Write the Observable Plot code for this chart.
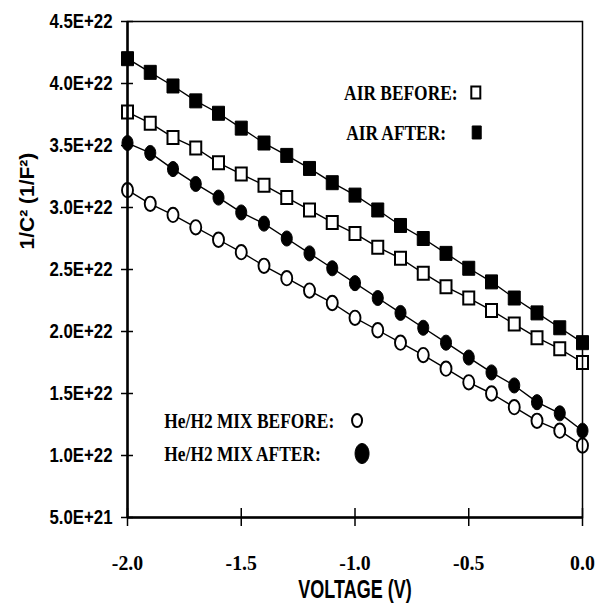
<!DOCTYPE html>
<html>
<head>
<meta charset="utf-8">
<script src="https://cdn.jsdelivr.net/npm/d3@7"></script>
<script src="https://cdn.jsdelivr.net/npm/@observablehq/plot@0.6"></script>
<style>
  html, body { margin: 0; padding: 0; background: #fff; }
  #chart svg { display: block; background: #fff; }
  g[aria-label="y-axis tick label"] { font-family: "Liberation Sans", Arial, sans-serif; font-weight: bold; font-size: 21px; }
  g[aria-label="x-axis tick label"] { font-family: "Liberation Serif", "Times New Roman", serif; font-weight: bold; font-size: 22px; }
</style>
</head>
<body>
<div id="chart"></div>
<script>
// ---- data ----
const voltage = [-2.0, -1.9, -1.8, -1.7, -1.6, -1.5, -1.4, -1.3, -1.2, -1.1, -1.0, -0.9, -0.8, -0.7, -0.6, -0.5, -0.4, -0.3, -0.2, -0.1, 0.0];
// values in units of 1e22 (1/F^2)
const airBefore = [3.77, 3.68, 3.565, 3.48, 3.36, 3.27, 3.18, 3.08, 2.98, 2.88, 2.79, 2.68, 2.59, 2.47, 2.36, 2.27, 2.17, 2.06, 1.95, 1.86, 1.75];
const airAfter  = [4.20, 4.09, 3.98, 3.86, 3.76, 3.64, 3.52, 3.42, 3.315, 3.20, 3.10, 2.98, 2.855, 2.75, 2.63, 2.51, 2.40, 2.27, 2.15, 2.03, 1.91];
const heBefore  = [3.14, 3.03, 2.94, 2.84, 2.74, 2.64, 2.53, 2.43, 2.33, 2.23, 2.11, 2.01, 1.91, 1.81, 1.70, 1.59, 1.50, 1.39, 1.28, 1.20, 1.08];
const heAfter   = [3.52, 3.44, 3.31, 3.19, 3.08, 2.96, 2.87, 2.75, 2.63, 2.51, 2.39, 2.27, 2.15, 2.03, 1.91, 1.79, 1.67, 1.565, 1.43, 1.34, 1.20];
const seriesNames = ["AIR BEFORE:", "AIR AFTER:", "He/H2 MIX BEFORE:", "He/H2 MIX AFTER:"];
const xTickValues = [-2.0, -1.5, -1.0, -0.5, 0.0];
const xTickLabels = ["-2.0", "-1.5", "-1.0", "-0.5", "0.0"];
const yTickValues = [5e21, 1e22, 1.5e22, 2e22, 2.5e22, 3e22, 3.5e22, 4e22, 4.5e22];
const yTickLabels = ["5.0E+21", "1.0E+22", "1.5E+22", "2.0E+22", "2.5E+22", "3.0E+22", "3.5E+22", "4.0E+22", "4.5E+22"];
const xTitle = "VOLTAGE (V)";
const yTitle = "1/C\u00B2 (1/F\u00B2)";

// ---- build table ----
const SCALE = 1e22;
const seriesValues = [airBefore, airAfter, heBefore, heAfter];
const rows = seriesValues.flatMap((vals, s) =>
  vals.map((v, i) => ({series: seriesNames[s], v: voltage[i], c: v * SCALE})));

// custom symbols (styles)
function rectSymbol(w, h) {
  return {draw(ctx) { ctx.rect(-w / 2, -h / 2, w, h); }};
}
function ellipseSymbol(rx, ry) {
  const k = 0.5523;
  return {draw(ctx) {
    ctx.moveTo(0, -ry);
    ctx.bezierCurveTo(k * rx, -ry, rx, -k * ry, rx, 0);
    ctx.bezierCurveTo(rx, k * ry, k * rx, ry, 0, ry);
    ctx.bezierCurveTo(-k * rx, ry, -rx, k * ry, -rx, 0);
    ctx.bezierCurveTo(-rx, -k * ry, -k * rx, -ry, 0, -ry);
    ctx.closePath();
  }};
}
const styles = {
  "AIR BEFORE:":       {symbol: rectSymbol(11, 13), fill: "white", stroke: "black", strokeWidth: 2},
  "AIR AFTER:":        {symbol: rectSymbol(12, 14), fill: "black", stroke: "black", strokeWidth: 1},
  "He/H2 MIX BEFORE:": {symbol: ellipseSymbol(5.5, 7.2), fill: "white", stroke: "black", strokeWidth: 1.9},
  "He/H2 MIX AFTER:":  {symbol: ellipseSymbol(5.5, 7.5), fill: "black", stroke: "black", strokeWidth: 1}
};

const xDomain = [xTickValues[0], xTickValues[xTickValues.length - 1]];
const yDomain = [yTickValues[0], yTickValues[yTickValues.length - 1]];

// legend layout (data-space anchors)
const legend = [
  {name: "AIR BEFORE:",       tx: -1.048, mx: -0.469, y: 3.927e22},
  {name: "AIR AFTER:",        tx: -1.039, mx: -0.465, y: 3.605e22},
  {name: "He/H2 MIX BEFORE:", tx: -1.838, mx: -0.991, y: 1.282e22},
  {name: "He/H2 MIX AFTER:",  tx: -1.838, mx: -0.969, y: 1.016e22}
];
const legendSymbols = {
  "AIR BEFORE:": rectSymbol(9, 12),
  "AIR AFTER:": rectSymbol(9, 13),
  "He/H2 MIX BEFORE:": ellipseSymbol(5, 6.5),
  "He/H2 MIX AFTER:": ellipseSymbol(7, 10)
};

const marks = [];
for (const name of seriesNames) {
  const data = rows.filter(d => d.series === name);
  marks.push(Plot.line(data, {x: "v", y: "c", stroke: "black", strokeWidth: 1.4}));
}
for (const name of seriesNames) {
  const data = rows.filter(d => d.series === name);
  const st = styles[name];
  marks.push(Plot.dot(data, {x: "v", y: "c", symbol: () => st.symbol, fill: st.fill, stroke: st.stroke, strokeWidth: st.strokeWidth, r: 7}));
}
// legend
for (const L of legend) {
  marks.push(Plot.text([L], {x: "tx", y: "y", text: "name", textAnchor: "start", lineAnchor: "middle",
    fontFamily: "Liberation Serif, Times New Roman, serif", fontWeight: "bold", fontSize: 22}));
  const st = styles[L.name];
  marks.push(Plot.dot([L], {x: "mx", y: "y", symbol: () => legendSymbols[L.name], fill: st.fill, stroke: "black", strokeWidth: st.fill === "white" ? 2 : 1, r: 7}));
}
// frame and axis lines
marks.push(Plot.frame({stroke: "black", strokeWidth: 1.5}));
marks.push(Plot.ruleX([xDomain[0]], {stroke: "black", strokeWidth: 2.5}));
marks.push(Plot.ruleY([yDomain[0]], {stroke: "black", strokeWidth: 2.5}));
// axes with ticks crossing the axis line
marks.push(Plot.axisY({ticks: yTickValues, tickFormat: d => yTickLabels[yTickValues.indexOf(d)], tickSize: 12, dx: 6, tickPadding: 9, strokeWidth: 1.5, label: null}));
marks.push(Plot.axisX({ticks: xTickValues, tickFormat: d => xTickLabels[xTickValues.indexOf(d)], tickSize: 18, dy: -9, tickPadding: 28, strokeWidth: 1.5, label: null}));
// axis titles
marks.push(Plot.text([yTitle], {frameAnchor: "left", dx: -100, dy: -20, rotate: -90, text: d => d,
  fontFamily: "Liberation Sans, Arial, sans-serif", fontWeight: "bold", fontSize: 21, letterSpacing: 0.5}));
marks.push(Plot.text([xTitle], {frameAnchor: "bottom", dy: 80, text: d => d,
  fontFamily: "Liberation Sans, Arial, sans-serif", fontWeight: "bold", fontSize: 25}));

const chart = Plot.plot({
  width: 600,
  height: 609,
  marginLeft: 127,
  marginRight: 18,
  marginTop: 21,
  marginBottom: 92,
  x: {domain: xDomain, axis: null},
  y: {domain: yDomain, axis: null},
  style: {background: "white", color: "black"},
  marks
});
document.getElementById("chart").append(chart);

// condense text horizontally to mimic the narrow typefaces of the original
function condense(el, factor) {
  const w = el.getComputedTextLength();
  if (w > 0) {
    el.setAttribute("textLength", (w * factor).toFixed(1));
    el.setAttribute("lengthAdjust", "spacingAndGlyphs");
  }
}
d3.select(chart).selectAll("text").each(function () {
  const t = this.textContent;
  if (yTickLabels.includes(t)) condense(this, 0.8);
  else if (xTickLabels.includes(t)) condense(this, 0.9);
  else if (seriesNames.includes(t)) condense(this, 0.79);
  else if (t === xTitle) condense(this, 0.72);
});
</script>
</body>
</html>
